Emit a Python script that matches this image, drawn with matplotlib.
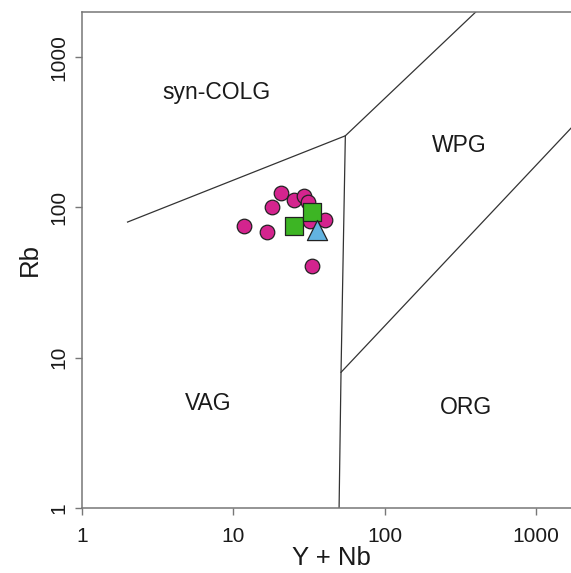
import matplotlib
matplotlib.use("Agg")
import matplotlib.pyplot as plt

plt.rcParams['font.family'] = ['Liberation Sans', 'DejaVu Sans']

# Field boundaries (Pearce et al. 1984)
colg_x = [2, 55, 400]
colg_y = [80, 300, 2000]
vag_wpg_x = [55, 51.5, 50]
vag_wpg_y = [300, 8, 1]
wpg_org_x = [51.5, 2000]
wpg_org_y = [8, 400]

# Samples
circ_x = [11.7, 16.7, 18.0, 20.7, 25.3, 29.5, 31.1, 32.0, 40.1, 32.9]
circ_y = [75, 68.5, 100, 125, 113, 120, 108, 81, 82, 41]
sq_x = [25.3, 33.2]
sq_y = [75, 93]
tri_x = [35.8]
tri_y = [70.3]

fields = ["syn-COLG", "WPG", "VAG", "ORG"]
field_x = [7.7, 313, 6.86, 343]
field_y = [585, 259, 4.94, 4.64]

xticks = [1, 10, 100, 1000]
yticks = [1, 10, 100, 1000]

fig = plt.figure(figsize=(5.71, 5.73), dpi=100)
ax = fig.add_axes([82/571, 65/573, 499.5/571, 496/573])
ax.set_xscale('log')
ax.set_yscale('log')
ax.set_xlim(1, 2000)
ax.set_ylim(1, 2000)

lc = '#333333'
for xs, ys in [(colg_x, colg_y), (vag_wpg_x, vag_wpg_y), (wpg_org_x, wpg_org_y)]:
    ax.plot(xs, ys, color=lc, lw=0.9, zorder=2)

ax.scatter(circ_x, circ_y, s=110, marker='o', facecolor='#D4248E', edgecolor='#222222', lw=0.9, zorder=3)
ax.scatter(sq_x, sq_y, s=155, marker='s', facecolor='#3DB524', edgecolor='#222222', lw=0.9, zorder=4)
ax.scatter(tri_x, tri_y, s=210, marker='^', facecolor='#62B3E0', edgecolor='#222222', lw=0.9, zorder=5)

for t, x, y in zip(fields, field_x, field_y):
    ax.text(x, y, t, ha='center', va='center', fontsize=16.5, color='#1a1a1a')

ax.set_xticks(xticks)
ax.set_xticklabels([str(v) for v in xticks])
ax.set_yticks(yticks)
ax.set_yticklabels([str(v) for v in yticks], rotation=90, va='center')
ax.minorticks_off()
ax.tick_params(axis='both', which='major', length=5, width=1.0, color='#777777',
               labelsize=15, labelcolor='#1a1a1a', pad=5)
ax.tick_params(axis='x', pad=9)
for s in ax.spines.values():
    s.set_color('#777777')
    s.set_linewidth(1.1)

ax.set_xlabel('Y + Nb', fontsize=18.5, color='#1a1a1a', labelpad=0)
ax.set_ylabel('Rb', fontsize=18.5, color='#1a1a1a', labelpad=5)

fig.savefig('out.png', dpi=100, facecolor='white')
